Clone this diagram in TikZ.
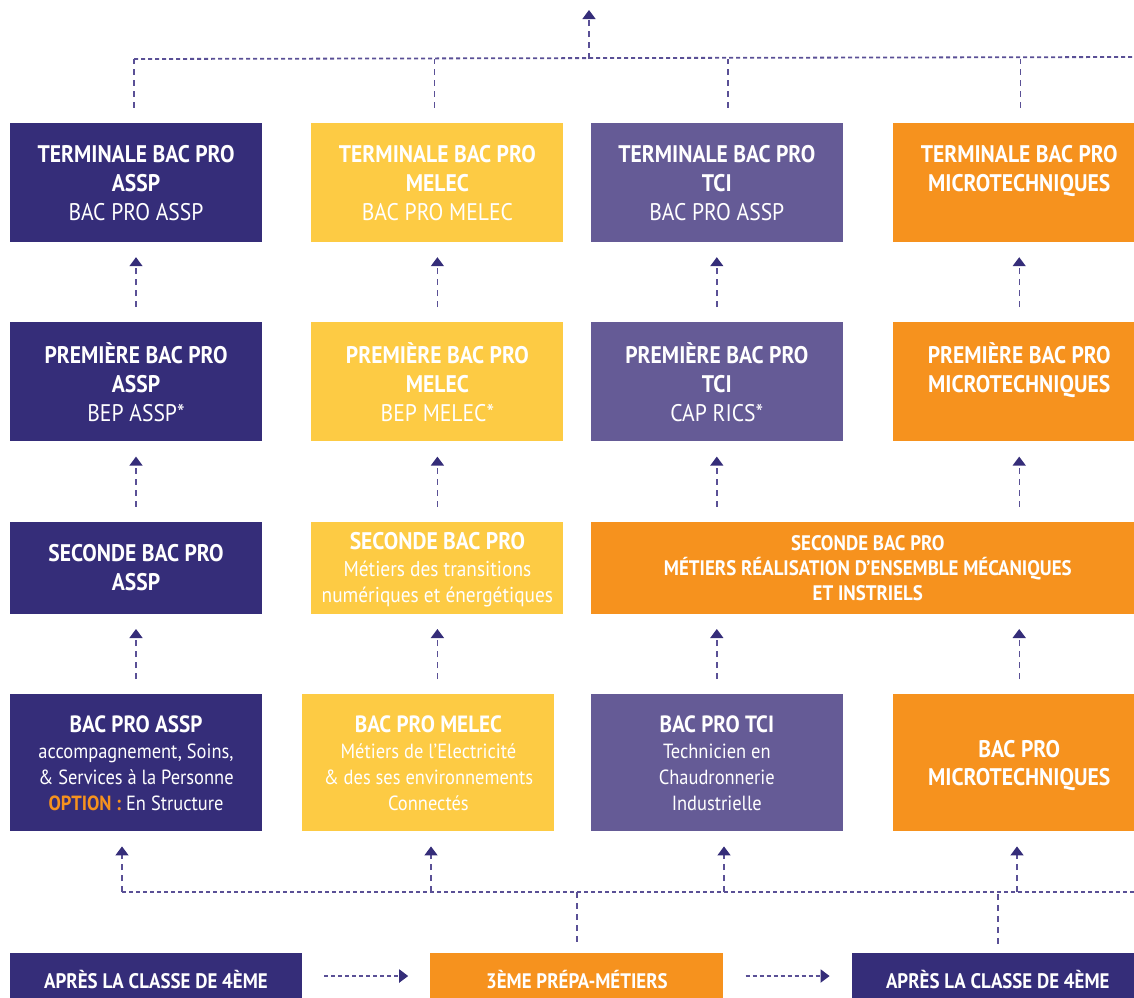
\documentclass[tikz,border=0pt]{standalone}
\usepackage{fontspec}
\setmainfont[FakeStretch=0.9]{PT Sans}
\usepackage{tikz}
\usetikzlibrary{arrows.meta, positioning}
\definecolor{colorAssp}{HTML}{352D79}
\definecolor{colorMelec}{HTML}{FDCB44}
\definecolor{colorTci}{HTML}{655B96}
\definecolor{colorMicro}{HTML}{F6921E}
\definecolor{colorLink}{HTML}{5A5096}
\tikzset{
  cell/.style={rectangle, inner sep=0pt, text=white, align=center},
  box/.style={cell, minimum width=252pt, minimum height=119pt, font=\fontsize{24}{29}\selectfont, text depth=-7pt},
  foot/.style={cell, minimum width=292pt, minimum height=56pt, font=\fontsize{21}{22}\selectfont\bfseries, text height=15pt, text depth=0pt},
  arrUp/.style={-{Triangle[width=13pt,length=9pt,color=colorAssp]}, colorLink, line width=1.4pt, dash pattern=on 6pt off 5pt, shorten <=15pt, shorten >=15pt},
  lineDrop/.style={colorLink, line width=1.4pt, dash pattern=on 6pt off 5pt},
  lineHub/.style={colorLink, line width=1.8pt, dash pattern=on 4pt off 3pt},
  arrSide/.style={-{Triangle[width=13pt,length=9pt,color=colorAssp]}, colorLink, line width=2pt, dash pattern=on 4pt off 3pt, shorten <=22pt, shorten >=22pt}
}

\begin{document}
\begin{tikzpicture}[x=1pt, y=-1pt]
\path[use as bounding box, clip] (0,0) rectangle (1134,997);
% terminale
\node[box, fill=colorAssp] (t1) at (136,182.5) {\textbf{TERMINALE BAC PRO}\\\textbf{ASSP}\\BAC PRO ASSP};
\node[box, fill=colorMelec, right=49pt of t1] (t2) {\textbf{TERMINALE BAC PRO}\\\textbf{MELEC}\\BAC PRO MELEC};
\node[box, fill=colorTci, right=27pt of t2] (t3) {\textbf{TERMINALE BAC PRO}\\\textbf{TCI}\\BAC PRO ASSP};
\node[box, fill=colorMicro, right=50pt of t3] (t4) {\textbf{TERMINALE BAC PRO}\\\textbf{MICROTECHNIQUES}\\\phantom{B}};
% premiere
\node[box, fill=colorAssp, below=80pt of t1] (p1) {\textbf{PREMIÈRE BAC PRO}\\\textbf{ASSP}\\BEP ASSP*};
\node[box, fill=colorMelec, below=80pt of t2] (p2) {\textbf{PREMIÈRE BAC PRO}\\\textbf{MELEC}\\BEP MELEC*};
\node[box, fill=colorTci, below=80pt of t3] (p3) {\textbf{PREMIÈRE BAC PRO}\\\textbf{TCI}\\CAP RICS*};
\node[box, fill=colorMicro, below=80pt of t4] (p4) {\textbf{PREMIÈRE BAC PRO}\\\textbf{MICROTECHNIQUES}\\\phantom{B}};
% seconde
\node[box, minimum height=92pt, fill=colorAssp, below=80pt of p1] (s1) {\textbf{SECONDE BAC PRO}\\\textbf{ASSP}};
\node[box, minimum height=92pt, fill=colorMelec, below=80pt of p2, font=\fontsize{21.5}{26.5}\selectfont] (s2) {{\fontsize{24}{26.5}\selectfont\textbf{SECONDE BAC PRO}}\\Métiers des transitions\\numériques et énergétiques};
\node[box, minimum height=92pt, minimum width=554pt, fill=colorMicro, below=80pt of p3.south west, anchor=north west, font=\fontsize{21}{25}\selectfont\bfseries] (s3) {SECONDE BAC PRO\\MÉTIERS RÉALISATION D’ENSEMBLE MÉCANIQUES\\ET INSTRIELS};
% bac pro
\node[box, minimum height=137pt, fill=colorAssp, below=80pt of s1, font=\fontsize{20.5}{26}\selectfont] (b1) {{\fontsize{23.5}{26}\selectfont\textbf{BAC PRO ASSP}}\\accompagnement, Soins,\\\& Services à la Personne\\\textcolor{colorMicro}{\textbf{OPTION :}} En Structure};
\node[box, minimum height=137pt, fill=colorMelec, right=40pt of b1, font=\fontsize{20.5}{26}\selectfont] (b2) {{\fontsize{23.5}{26}\selectfont\textbf{BAC PRO MELEC}}\\Métiers de l’Electricité\\\& des ses environnements\\Connectés};
\node[box, minimum height=137pt, fill=colorTci, below=80pt of s3.south west, anchor=north west, font=\fontsize{20.5}{26}\selectfont] (b3) {{\fontsize{23.5}{26}\selectfont\textbf{BAC PRO TCI}}\\Technicien en\\Chaudronnerie\\Industrielle};
\node[box, minimum height=137pt, fill=colorMicro, right=50pt of b3, font=\fontsize{24}{28}\selectfont\bfseries] (b4) {BAC PRO\\MICROTECHNIQUES};
% apres la 4eme
\node[foot, fill=colorAssp] (a1) at (156,981) {APRÈS LA CLASSE DE 4ÈME};
\node[foot, minimum width=293pt, fill=colorMicro, right=128pt of a1] (a2) {3ÈME PRÉPA-MÉTIERS};
\node[foot, fill=colorAssp, right=128pt of a2] (a3) {APRÈS LA CLASSE DE 4ÈME};

% arrows between the years
\foreach \lo/\hi in {p1/t1, p2/t2, p3/t3, p4/t4, s1/p1, s2/p2, b1/s1}
  \draw[arrUp] (\lo) -- (\hi);
\draw[arrUp] (s3.north -| p3) -- (p3);
\draw[arrUp] (s3.north -| p4) -- (p4);
\draw[arrUp] (s2 |- b2.north) -- (s2);
\draw[arrUp] (b3) -- (b3 |- s3.south);
\draw[arrUp] (b4) -- (b4 |- s3.south);

% top hub
\coordinate (topHub) at (589,59);
\coordinate (topEnd) at (1134,57);
\coordinate (topTip) at (589,10);
\draw[lineHub] ([xshift=-2pt]t1.north |- topHub) -- (topEnd);
\foreach \n/\dx in {t1/-2, t2/-3, t3/11, t4/1}
  \draw[lineDrop] ([xshift=\dx pt, yshift=15pt]\n.north) -- ([xshift=\dx pt]\n.north |- topHub);
\draw[arrUp, shorten <=0pt, shorten >=0pt] (topHub) -- (topTip);

% bottom hub
\coordinate (botHub) at (122,892);
\coordinate (botEnd) at (1134,892);
\coordinate (f2) at (431,892);
\coordinate (f3) at (724,892);
\coordinate (f4) at (1017,892);
\draw[lineHub] (botHub) -- (botEnd);
\draw[arrUp, shorten <=0pt] (botHub) -- (botHub |- b1.south);
\draw[arrUp, shorten <=0pt] (f2) -- (f2 |- b2.south);
\draw[arrUp, shorten <=0pt] (f3) -- (f3 |- b3.south);
\draw[arrUp, shorten <=0pt] (f4) -- (f4 |- b4.south);
\draw[lineDrop] ([yshift=11pt]a2.north) -- (a2.north |- botHub);
\draw[lineDrop] ([yshift=9pt]a3.north) -- (a3.north |- botHub);
\draw[arrSide] ([yshift=5pt]a1.east) -- ([yshift=5pt]a2.west);
\draw[arrSide] ([yshift=5pt]a2.east) -- ([yshift=5pt]a3.west);
\end{tikzpicture}
\end{document}
